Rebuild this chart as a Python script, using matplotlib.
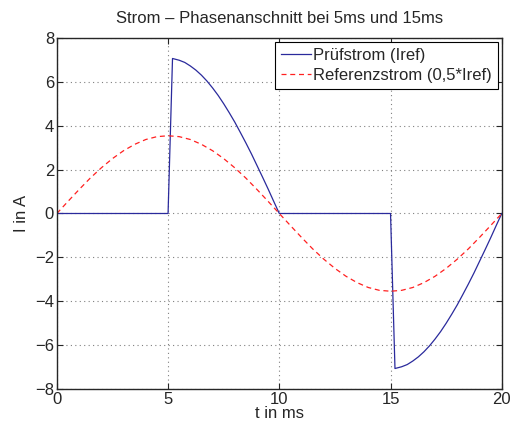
import matplotlib.pyplot as plt

plt.rcParams['font.family'] = ['Liberation Sans', 'DejaVu Sans']
plt.rcParams['text.color'] = '#262626'
plt.rcParams['axes.labelcolor'] = '#262626'

# Prüfstrom (Phasenanschnitt bei 5ms und 15ms)
t_pruef = [0, 1, 2, 3, 4, 5.0, 5.2, 5.5, 5.75, 6, 6.25, 6.5, 6.75, 7, 7.25,
           7.5, 7.75, 8, 8.25, 8.5, 8.75, 9, 9.25, 9.5, 9.75, 10,
           11, 12, 13, 14, 15.0, 15.2, 15.5, 15.75, 16, 16.25, 16.5, 16.75,
           17, 17.25, 17.5, 17.75, 18, 18.25, 18.5, 18.75, 19, 19.25, 19.5,
           19.75, 20]
i_pruef = [0, 0, 0, 0, 0, 0, 7.06, 6.98, 6.88, 6.72, 6.53, 6.30, 6.03, 5.72,
           5.38, 5.00, 4.59, 4.16, 3.69, 3.21, 2.71, 2.18, 1.65, 1.11, 0.55, 0,
           0, 0, 0, 0, 0, -7.06, -6.98, -6.88, -6.72, -6.53, -6.30, -6.03,
           -5.72, -5.38, -5.00, -4.59, -4.16, -3.69, -3.21, -2.71, -2.18,
           -1.65, -1.11, -0.55, 0]

# Referenzstrom (0,5*Iref)
t_ref = [0, 0.5, 1, 1.5, 2, 2.5, 3, 3.5, 4, 4.5, 5, 5.5, 6, 6.5, 7, 7.5, 8,
         8.5, 9, 9.5, 10, 10.5, 11, 11.5, 12, 12.5, 13, 13.5, 14, 14.5, 15,
         15.5, 16, 16.5, 17, 17.5, 18, 18.5, 19, 19.5, 20]
i_ref = [0, 0.55, 1.09, 1.61, 2.08, 2.50, 2.86, 3.15, 3.37, 3.50, 3.54,
         3.50, 3.37, 3.15, 2.86, 2.50, 2.08, 1.61, 1.09, 0.55, 0,
         -0.55, -1.09, -1.61, -2.08, -2.50, -2.86, -3.15, -3.37, -3.50, -3.54,
         -3.50, -3.37, -3.15, -2.86, -2.50, -2.08, -1.61, -1.09, -0.55, 0]

fig = plt.figure(figsize=(5.12, 4.3), dpi=100)
ax = fig.add_axes([0.111, 0.095, 0.869, 0.817])

ax.plot(t_pruef, i_pruef, color='#2a2a9c', linewidth=0.9, label='Prüfstrom (Iref)')
ax.plot(t_ref, i_ref, color='#ff2020', linestyle=(0, (4, 3)), linewidth=0.9,
        label='Referenzstrom (0,5*Iref)')

ax.set_xlim(0, 20)
ax.set_ylim(-8, 8)
ax.set_xticks([0, 5, 10, 15, 20])
ax.set_yticks(range(-8, 9, 2))
ax.grid(True, linestyle=(0, (1, 3)), color='#808080', linewidth=0.8)
ax.tick_params(direction='in', top=True, right=True, labelsize=12, length=4,
               pad=2, colors='#262626')
for s in ax.spines.values():
    s.set_linewidth(1.0)
    s.set_color('#262626')

ax.set_xlabel('t in ms', fontsize=12, labelpad=-1)
ax.set_ylabel('I in A', fontsize=12, labelpad=4)
ax.set_title('Strom – Phasenanschnitt bei 5ms und 15ms', fontsize=12, pad=11)

leg = ax.legend(loc='upper right', fontsize=12, fancybox=False, framealpha=1,
                edgecolor='black', handlelength=1.8, borderpad=0.35,
                labelspacing=0.3, handletextpad=0.15, borderaxespad=0.25)
leg.get_frame().set_linewidth(0.8)

fig.savefig('out.png', dpi=100)
